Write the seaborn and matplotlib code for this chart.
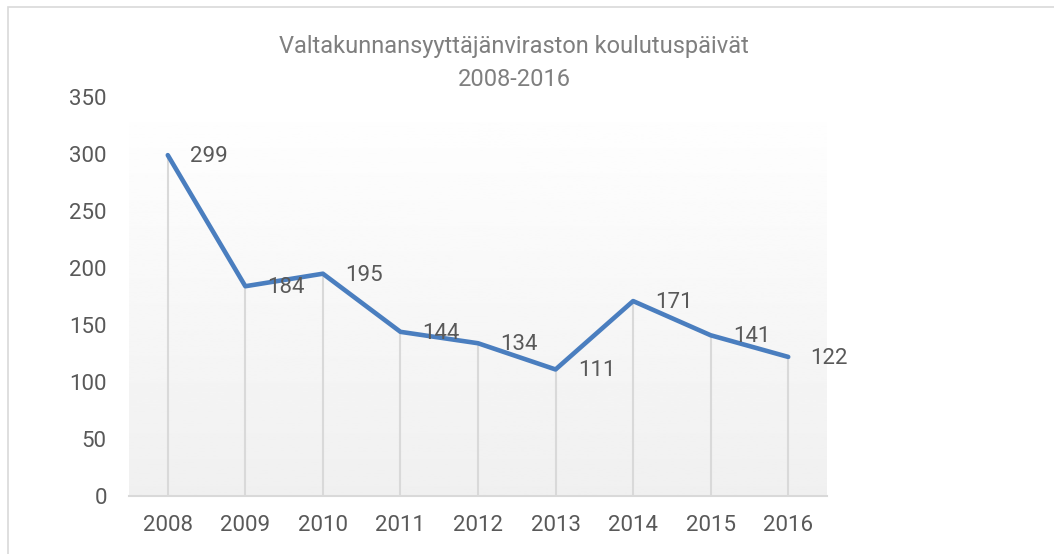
import numpy as np
import pandas as pd
import seaborn as sns
import matplotlib.pyplot as plt
from matplotlib.patches import Rectangle

# training days of the prosecutor's office per year

years = ['2008', '2009', '2010', '2011', '2012', '2013', '2014', '2015', '2016']
days = [299, 184, 195, 144, 134, 111, 171, 141, 122]
y_ticks = [0, 50, 100, 150, 200, 250, 300, 350]

title = 'Valtakunnansyyttäjänviraston koulutuspäivät\n2008-2016'

sns.set_theme(style='white')
plt.rcParams['font.family'] = ['Roboto', 'DejaVu Sans']

text_col = '#595959'
line_col = '#4A7EBF'
grey = '#D9D9D9'

df = pd.DataFrame({'year': years, 'days': days})
df['pos'] = range(len(df))

fig = plt.figure(figsize=(10.54, 5.54), dpi=100)
ax = fig.add_axes([129 / 1054, 1 - 496 / 554, 698 / 1054, 399 / 554])

# soft gradient behind the plot
grad = np.linspace(1.0, 0.94, 256).reshape(-1, 1)
ax.imshow(grad, cmap='gray', vmin=0, vmax=1, aspect='auto',
          extent=(-0.5, len(years) - 0.5, 0, 350), zorder=0)

# drop lines from each point to the axis
ax.vlines(df['pos'], 0, df['days'], color=grey, lw=1.5, zorder=1)

sns.lineplot(data=df, x='pos', y='days', ax=ax, color=line_col, lw=3.3,
             zorder=3)

for p, v in zip(df['pos'], df['days']):
    ax.annotate(str(v), (p, v), xytext=(16, -1), textcoords='offset points',
                ha='left', va='center', fontsize=16, color=text_col, zorder=4)

ax.set_xlim(-0.5, len(years) - 0.5)
ax.set_ylim(0, 350)
ax.set_xticks(df['pos'])
ax.set_xticklabels(years)
ax.set_yticks(y_ticks)
ax.set_xlabel('')
ax.set_ylabel('')
ax.tick_params(axis='both', length=0, labelsize=16, labelcolor=text_col)
ax.tick_params(axis='y', pad=16)
ax.tick_params(axis='x', pad=14)

for s in ['top', 'right', 'left']:
    ax.spines[s].set_visible(False)
ax.spines['bottom'].set_color(grey)
ax.spines['bottom'].set_linewidth(1.5)

fig.text(514 / 1054, 1 - 63 / 554, title, ha='center', va='center',
         fontsize=17, color='#7F7F7F', linespacing=1.6)

# chart border (only left and top are inside the crop)
fig.patches.append(Rectangle((8 / 1054, -0.1), 1.2, 1 - 7 / 554 + 0.1,
                             transform=fig.transFigure, fill=False,
                             edgecolor=grey, lw=1.2))

fig.savefig('out.png', dpi=100)
